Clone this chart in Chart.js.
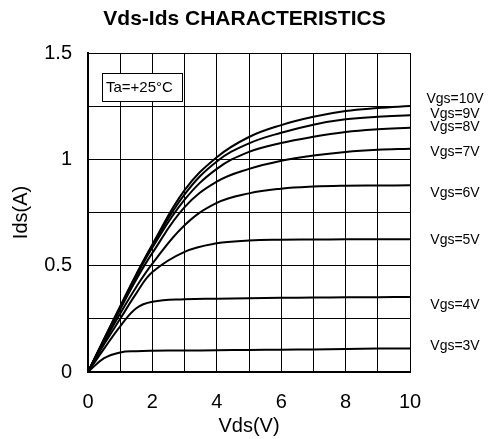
<!DOCTYPE html>
<html>
<head>
<meta charset="utf-8">
<script src="https://cdn.jsdelivr.net/npm/chart.js@4/dist/chart.umd.min.js"></script>
<style>
  body { margin: 0; background: #fff; }
  canvas { display: block; }
</style>
</head>
<body>
<canvas id="ivChart" width="489" height="439"></canvas>
<script>
// Vds (V) sample points, shared by every curve
const vds = [0, 0.5, 1, 1.5, 2, 3, 4, 5, 6, 7, 8, 9, 10];

// Ids (A) for each gate voltage
const ids10 = [0, 0.155, 0.31, 0.46, 0.60, 0.855, 1.01, 1.105, 1.161, 1.200, 1.227, 1.241, 1.251];
const ids9  = [0, 0.155, 0.305, 0.455, 0.595, 0.835, 0.99, 1.075, 1.125, 1.163, 1.188, 1.200, 1.207];
const ids8  = [0, 0.15, 0.30, 0.45, 0.585, 0.81, 0.955, 1.035, 1.077, 1.106, 1.128, 1.141, 1.149];
const ids7  = [0, 0.15, 0.295, 0.435, 0.56, 0.775, 0.895, 0.955, 0.993, 1.018, 1.035, 1.045, 1.050];
const ids6  = [0, 0.14, 0.275, 0.40, 0.51, 0.69, 0.795, 0.84, 0.862, 0.872, 0.876, 0.877, 0.878];
const ids5  = [0, 0.13, 0.25, 0.37, 0.47, 0.565, 0.605, 0.618, 0.622, 0.623, 0.624, 0.624, 0.624];
const ids4  = [0, 0.11, 0.215, 0.30, 0.33, 0.342, 0.345, 0.347, 0.349, 0.350, 0.351, 0.352, 0.353];
const ids3  = [0, 0.065, 0.092, 0.098, 0.100, 0.101, 0.102, 0.104, 0.105, 0.106, 0.108, 0.110, 0.111];

const vgsLabels = ['Vgs=10V', 'Vgs=9V', 'Vgs=8V', 'Vgs=7V', 'Vgs=6V', 'Vgs=5V', 'Vgs=4V', 'Vgs=3V'];
const series = [ids10, ids9, ids8, ids7, ids6, ids5, ids4, ids3];
// where each label sits on the Ids axis, right of the plot
const labelIds = [1.284, 1.213, 1.152, 1.034, 0.842, 0.621, 0.315, 0.122];

const yTickLabels = ['0', '0.5', '1', '1.5'];
const xTickLabels = ['0', '2', '4', '6', '8', '10'];

const FONT = 'Arial, "Liberation Sans", Helvetica, sans-serif';

// title, labels on the right, Ta box
const notesPlugin = {
  id: 'notes',
  afterDraw(chart) {
    const ctx = chart.ctx;
    const area = chart.chartArea;
    const y = chart.scales.y;
    ctx.save();
    ctx.fillStyle = '#000';
    ctx.textAlign = 'center';
    ctx.textBaseline = 'middle';

    ctx.font = 'bold 21px ' + FONT;
    ctx.fillText('Vds-Ids CHARACTERISTICS', chart.width / 2, 19);

    ctx.font = '14px ' + FONT;
    vgsLabels.forEach((txt, i) => {
      ctx.fillText(txt, area.right + 45, y.getPixelForValue(labelIds[i]));
    });

    // temperature box
    const bx = area.left + 14, by = area.top + 20;
    ctx.fillStyle = '#fff';
    ctx.fillRect(bx, by, 80, 28);
    ctx.strokeStyle = '#000';
    ctx.lineWidth = 1;
    ctx.strokeRect(bx + 0.5, by + 0.5, 80, 28);
    ctx.fillStyle = '#000';
    ctx.font = '15px ' + FONT;
    ctx.textAlign = 'left';
    ctx.fillText('Ta=+25°C', bx + 4, by + 15);
    ctx.restore();
  }
};

function initChart() {
  const ctx = document.getElementById('ivChart').getContext('2d');
  new Chart(ctx, {
    type: 'line',
    data: {
      datasets: series.map((vals, i) => ({
        label: vgsLabels[i],
        data: vds.map((v, j) => ({ x: v, y: vals[j] })),
        borderColor: '#000',
        borderWidth: 2,
        pointRadius: 0,
        fill: false,
        tension: 0.4
      }))
    },
    options: {
      responsive: false,
      animation: false,
      layout: { padding: { left: 0, right: 79, top: 53, bottom: 0 } },
      plugins: {
        legend: { display: false },
        tooltip: { enabled: false },
        title: { display: false }
      },
      scales: {
        x: {
          type: 'linear',
          min: 0,
          max: 10,
          afterFit: (s) => { s.height = 67; },
          ticks: {
            stepSize: 1,
            color: '#000',
            padding: 18,
            maxRotation: 0,
            font: { family: FONT, size: 20 },
            callback: (v) => (v % 2 === 0 ? xTickLabels[v / 2] : '')
          },
          grid: { color: '#000', lineWidth: 1, drawTicks: false },
          border: { color: '#000', width: 2 },
          title: {
            display: true,
            text: 'Vds(V)',
            color: '#000',
            font: { family: FONT, size: 20 },
            padding: { top: 0, bottom: 1 }
          }
        },
        y: {
          min: 0,
          max: 1.5,
          afterFit: (s) => { s.width = 88; },
          ticks: {
            stepSize: 0.25,
            color: '#000',
            padding: 16,
            font: { family: FONT, size: 20 },
            callback: (v) => {
              const k = Math.round(v * 4);
              return k % 2 === 0 ? yTickLabels[k / 2] : '';
            }
          },
          grid: { color: '#000', lineWidth: 1, drawTicks: false },
          border: { color: '#000', width: 2 },
          title: {
            display: true,
            text: 'Ids(A)',
            color: '#000',
            font: { family: FONT, size: 20 },
            padding: { top: 9, bottom: 0 }
          }
        }
      }
    },
    plugins: [notesPlugin]
  });
}

document.addEventListener('DOMContentLoaded', initChart);
</script>
</body>
</html>
